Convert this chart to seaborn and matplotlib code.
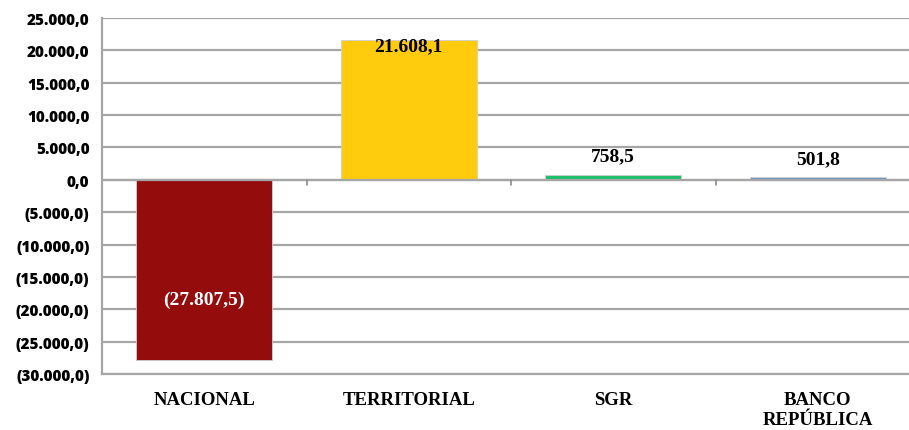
import numpy as np
import matplotlib.pyplot as plt
import pandas as pd
import seaborn as sns

# Datos
categorias = ["NACIONAL", "TERRITORIAL", "SGR", "BANCO\nREPÚBLICA"]
valores = [-27807.5, 21608.1, 758.5, 501.8]
colores = ["#940C0C", "#FFCB0C", "#1DBF6B", "#6F95C9"]
etiquetas = ["(27.807,5)", "21.608,1", "758,5", "501,8"]

df = pd.DataFrame({"cat": categorias, "valor": valores})

sns.set_style("white")

fig = plt.figure(figsize=(9.09, 4.31), dpi=100)
ax = fig.add_axes([0.1122, 0.13, 0.9, 0.826])

sns.barplot(data=df, x="cat", y="valor", hue="cat", palette=colores,
            legend=False, width=0.665, saturation=1, ax=ax, zorder=3,
            edgecolor="#d0d0d0", linewidth=0.6)

ax.set_ylim(-30000, 25000)
ax.set_xlim(-0.5, 3.5)
yt = np.arange(-30000, 25001, 5000)
ax.set_yticks(yt)

def fmt(v):
    s = f"{abs(v):,.1f}".replace(",", "X").replace(".", ",").replace("X", ".")
    return f"({s})" if v < 0 else s

ax.set_yticklabels([fmt(v) for v in yt], fontfamily="Open Sans",
                   fontweight="heavy", fontsize=11, color="black")
ax.tick_params(axis="y", length=5, color="#8c8c8c", width=1.2, pad=4)
ax.tick_params(axis="x", length=0, pad=12)
for lbl in ax.get_xticklabels():
    lbl.set_fontfamily("Liberation Serif")
    lbl.set_fontweight("bold")
    lbl.set_fontsize(13.5)
    lbl.set_color("black")
    lbl.set_linespacing(1.25)

ax.grid(axis="y", color="#a6a6a6", linewidth=1.6, zorder=0)
ax.axhline(0, color="#a6a6a6", linewidth=1.6, zorder=4)
for x in [0.5, 1.5, 2.5]:
    ax.plot([x, x], [0, -750], color="#8c8c8c", linewidth=1.2, zorder=4)

for s in ["top", "right"]:
    ax.spines[s].set_visible(False)
ax.spines["left"].set_color("#a6a6a6")
ax.spines["left"].set_linewidth(1.6)
ax.spines["bottom"].set_color("#a6a6a6")
ax.spines["bottom"].set_linewidth(1.6)

ax.set_xlabel("")
ax.set_ylabel("")

# Etiquetas de datos
pos_y = [-18400, 20700, 3700, 3250]
col_txt = ["white", "black", "black", "black"]
for i, (py, t, c) in enumerate(zip(pos_y, etiquetas, col_txt)):
    ax.text(i, py, t, ha="center", va="center", fontfamily="Liberation Serif",
            fontweight="bold", fontsize=14, color=c, zorder=5)

plt.savefig("out.png", dpi=100)
